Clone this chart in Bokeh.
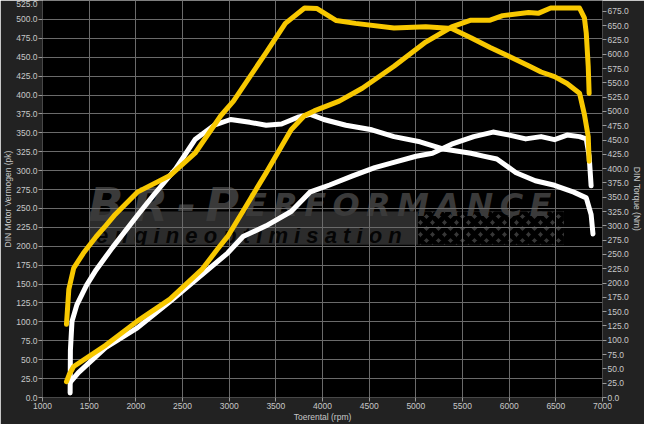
from bokeh.plotting import figure
from bokeh.models import (Range1d, LinearAxis, SingleIntervalTicker,
                          NumeralTickFormatter, Label, BoxAnnotation)
from bokeh.embed import file_html
from bokeh.resources import INLINE

# ---- data ----
tuned_power_rpm = [1257, 1285, 1334, 1676, 2016, 2366, 2706, 2880, 2984, 3190, 3396, 3499,
                   3664, 3808, 3911, 4179, 4426, 4766, 5106, 5384, 5590, 5796, 5930, 6208,
                   6311, 6445, 6620, 6754, 6806, 6826, 6847, 6857]
tuned_power_pk = [21, 30, 41, 69, 101, 130, 169, 197, 213, 255, 297, 319,
                  354, 373, 379, 392, 409, 438, 470, 490, 499, 499, 505, 509,
                  508, 515, 515, 515, 502, 482, 438, 402]

tuned_torque_rpm = [1257, 1282, 1334, 1437, 1574, 1676, 1779, 2016, 2366, 2634, 2912, 3046,
                    3396, 3602, 3808, 3942, 4148, 4354, 4766, 5106, 5384, 5590, 5796, 6002,
                    6208, 6342, 6486, 6620, 6754, 6806, 6847, 6857]
tuned_torque_nm = [128, 189, 226, 252, 281, 300, 320, 359, 388, 427, 493, 518,
                   603, 654, 681, 680, 659, 654, 646, 648, 645, 629, 612, 596,
                   580, 569, 561, 549, 532, 495, 456, 413]

stock_torque_rpm = [1296, 1299, 1316, 1368, 1471, 1574, 1749, 2016, 2191, 2428, 2634, 2840,
                    3015, 3221, 3396, 3561, 3736, 3870, 4014, 4251, 4529, 4766, 5044, 5281,
                    5590, 5724, 5868, 6074, 6280, 6486, 6692, 6826, 6878, 6898]
stock_torque_nm = [8, 83, 133, 162, 196, 223, 262, 318, 354, 400, 451, 476,
                   486, 481, 476, 478, 490, 495, 486, 476, 468, 456, 447, 435,
                   427, 422, 417, 393, 379, 371, 359, 349, 320, 286]

stock_power_rpm = [1296, 1385, 1676, 2016, 2366, 2984, 3149, 3396, 3664, 3870, 4076, 4323,
                   4560, 4735, 5003, 5178, 5384, 5621, 5827, 6002, 6177, 6342, 6486, 6620,
                   6754, 6826, 6857, 6878]
stock_power_pk = [20, 33, 66, 92, 127, 191, 213, 227, 246, 272, 281, 293,
                  304, 310, 319, 323, 335, 345, 351, 347, 342, 345, 341, 347,
                  345, 342, 319, 280]

x_label = "Toerental (rpm)"
y_left_label = "DIN Motor Vermogen (pk)"
y_right_label = "DIN Torque (Nm)"

YELLOW = "#F8C800"
WHITE = "#FFFFFF"
TXT = "#C8C8C8"
FONT = "Liberation Sans"
TS = "\u2009"

p = figure(width=644, height=424, output_backend="svg", toolbar_location=None,
           x_range=Range1d(1000, 7000), y_range=Range1d(0, 525),
           min_border_left=0, min_border_right=0, min_border_top=0, min_border_bottom=0)
p.background_fill_color = "#000000"
p.border_fill_color = "#222222"
p.outline_line_color = None

p.extra_y_ranges = {"nm": Range1d(0, 694)}
right = LinearAxis(y_range_name="nm", axis_label=y_right_label,
                   ticker=SingleIntervalTicker(interval=25, num_minor_ticks=0),
                   formatter=NumeralTickFormatter(format="0.0"))
p.add_layout(right, "right")

p.xaxis.ticker = SingleIntervalTicker(interval=500, num_minor_ticks=0)
p.xaxis.axis_label = x_label
left = p.yaxis[0]
left.ticker = SingleIntervalTicker(interval=25, num_minor_ticks=0)
left.formatter = NumeralTickFormatter(format="0.0")
left.axis_label = y_left_label

for ax in [p.xaxis[0], left, right]:
    ax.axis_line_color = None
    ax.major_tick_line_color = "#9a9a9a"
    ax.major_tick_in = 0
    ax.major_tick_out = 4
    ax.minor_tick_line_color = None
    ax.major_label_text_color = TXT
    ax.major_label_text_font = FONT
    ax.major_label_text_font_size = "8.5px"
    ax.major_label_standoff = 1
    ax.axis_label_text_color = TXT
    ax.axis_label_text_font = FONT
    ax.axis_label_text_font_size = "8.5px"
    ax.axis_label_text_font_style = "normal"
    ax.axis_label_standoff = 0

p.xgrid.ticker = SingleIntervalTicker(interval=500, num_minor_ticks=0)
p.ygrid.ticker = SingleIntervalTicker(interval=25, num_minor_ticks=0)
for g in (p.xgrid[0], p.ygrid[0]):
    g.grid_line_color = "#6a6a6a"
    g.grid_line_width = 1

# ---- watermark (decoration) ----
band = BoxAnnotation(left=1502, right=6587, bottom=202, top=246,
                     fill_color="#2c2c2c", fill_alpha=1.0, line_color=None, level="image")
p.add_layout(band)
flag = BoxAnnotation(left=5023, right=6587, bottom=202, top=246,
                     fill_color="#383838", fill_alpha=1.0, line_color=None,
                     hatch_pattern="diagonal_cross", hatch_color="#000000",
                     hatch_scale=12, hatch_weight=5, level="image")
p.add_layout(flag)
p.add_layout(Label(x=1490, y=254, text=TS.join("BR-P"), text_font="DejaVu Sans",
                   text_font_size="46px", text_font_style="bold italic",
                   text_color="#3a3a3a", text_baseline="alphabetic", level="image"))
p.add_layout(Label(x=3169, y=254, text=TS.join("ERFORMANCE"), text_font="DejaVu Sans",
                   text_font_size="32px", text_font_style="bold italic",
                   text_color="#3a3a3a", text_baseline="alphabetic", level="image"))
p.add_layout(Label(x=1574, y=214, text="e n g i n e   o p t i m i s a t i o n",
                   text_font=FONT, text_font_size="22px", text_font_style="bold italic",
                   text_color="#050505", text_baseline="alphabetic", level="image"))

# ---- curves ----
kw = dict(line_width=5, line_cap="round", line_join="round")
p.line(stock_power_rpm, stock_power_pk, color=WHITE, **kw)
p.line(stock_torque_rpm, stock_torque_nm, color=WHITE, y_range_name="nm", **kw)
p.line(tuned_power_rpm, tuned_power_pk, color=YELLOW, **kw)
p.line(tuned_torque_rpm, tuned_torque_nm, color=YELLOW, y_range_name="nm", **kw)

open("out.html", "w").write(file_html(p, INLINE))
